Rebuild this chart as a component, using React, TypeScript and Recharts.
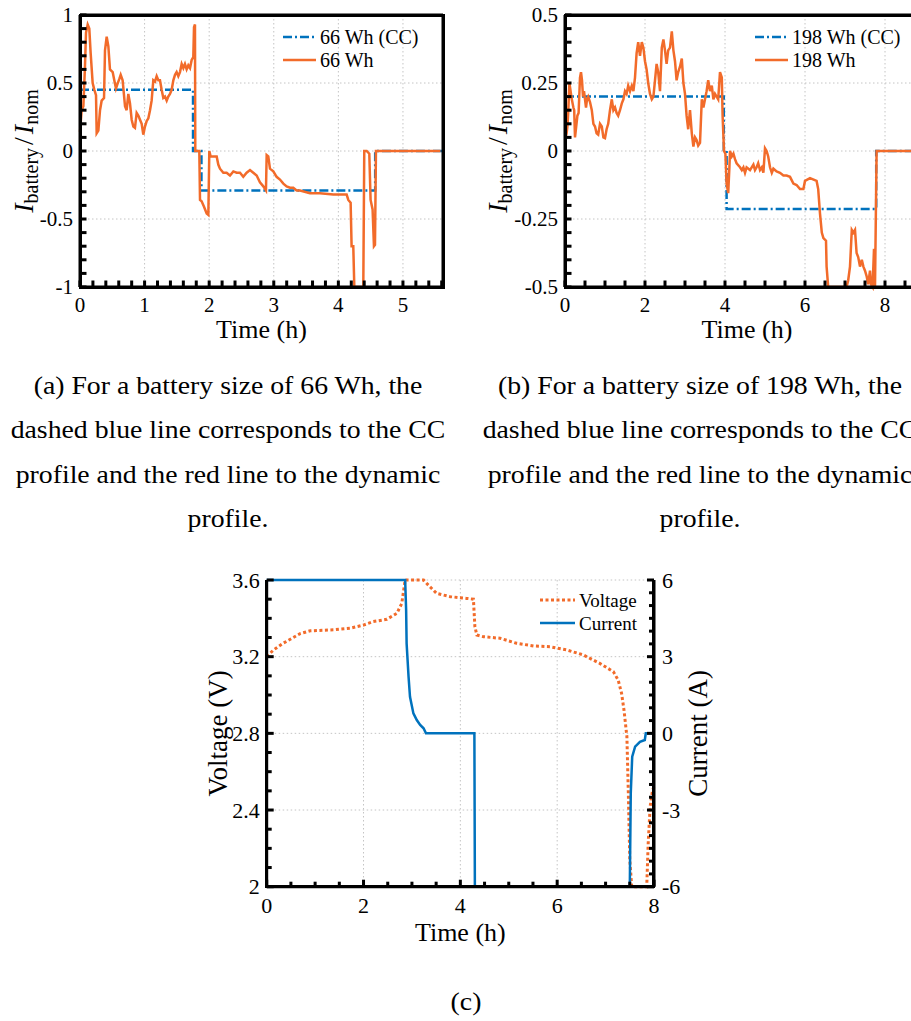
import React from 'react';
import { LineChart, Line, XAxis, YAxis, CartesianGrid, Legend } from 'recharts';

const FONT = '"Liberation Serif", "Times New Roman", serif';
const BLUE = '#0072BD';
const ORANGE = '#F26B2A';

type Pt = [number, number];

// (a) 66 Wh: constant current profile and dynamic profile, I_battery / I_nom vs time (h)
const cc66: Pt[] = [
  [0, 0.45], [1.75, 0.45], [1.75, 0], [1.88, 0], [1.88, -0.29], [4.57, -0.29], [4.57, 0], [5.62, 0],
];
const dyn66: Pt[] = [
  [0, 0.14], [0.026, 0.3], [0.052, 0.33], [0.077, 0.62], [0.093, 0.87], [0.119, 0.93], [0.144, 0.9],
  [0.165, 0.72], [0.196, 0.5], [0.222, 0.45], [0.248, 0.41], [0.258, 0.13], [0.284, 0.15], [0.31, 0.3],
  [0.335, 0.37], [0.372, 0.39], [0.387, 0.74], [0.413, 0.84], [0.439, 0.77], [0.464, 0.6], [0.506, 0.58],
  [0.531, 0.52], [0.557, 0.46], [0.578, 0.49], [0.609, 0.53], [0.63, 0.56], [0.66, 0.52], [0.697, 0.33],
  [0.722, 0.3], [0.748, 0.42], [0.774, 0.35], [0.8, 0.23], [0.826, 0.18], [0.851, 0.17], [0.877, 0.28],
  [0.903, 0.26], [0.929, 0.23], [0.955, 0.2], [0.98, 0.12], [1.006, 0.18], [1.032, 0.22], [1.058, 0.24],
  [1.084, 0.3], [1.109, 0.37], [1.135, 0.52], [1.161, 0.51], [1.187, 0.55], [1.213, 0.52], [1.238, 0.52],
  [1.264, 0.45], [1.29, 0.39], [1.316, 0.4], [1.342, 0.37], [1.367, 0.4], [1.393, 0.42], [1.419, 0.45],
  [1.445, 0.52], [1.471, 0.56], [1.496, 0.58], [1.522, 0.55], [1.548, 0.58], [1.574, 0.64], [1.6, 0.61],
  [1.625, 0.64], [1.651, 0.6], [1.677, 0.63], [1.703, 0.61], [1.729, 0.67], [1.754, 0.69], [1.765, 0.91],
  [1.78, 0.93], [1.785, 0], [1.847, 0], [1.858, -0.36], [1.883, -0.37], [1.92, -0.41], [1.961, -0.46],
  [1.987, -0.47], [2.002, 0], [2.023, -0.04], [2.116, -0.04], [2.141, -0.1], [2.167, -0.13], [2.219, -0.16],
  [2.27, -0.16], [2.322, -0.18], [2.374, -0.15], [2.425, -0.16], [2.477, -0.16], [2.528, -0.19], [2.58, -0.16],
  [2.632, -0.14], [2.683, -0.16], [2.735, -0.18], [2.786, -0.23], [2.838, -0.26], [2.879, -0.29], [2.89, -0.03],
  [2.915, -0.04], [2.941, -0.13], [2.993, -0.15], [3.044, -0.19], [3.096, -0.21], [3.148, -0.24], [3.199, -0.26],
  [3.251, -0.27], [3.302, -0.27], [3.354, -0.29], [3.406, -0.29], [3.56, -0.31], [3.715, -0.31], [3.922, -0.32],
  [4.128, -0.32], [4.154, -0.36], [4.19, -0.38], [4.205, -0.7], [4.231, -0.7], [4.247, -1], [4.386, -1],
  [4.401, 0], [4.438, 0], [4.479, -0.02], [4.499, -0.36], [4.53, -0.43], [4.551, -0.7], [4.567, -0.69],
  [4.582, 0], [5.58, 0],
];

// (b) 198 Wh
const cc198: Pt[] = [
  [0, 0.2], [3.97, 0.2], [3.97, 0], [4.04, 0], [4.04, -0.213], [7.78, -0.213], [7.78, 0], [9.1, 0],
];
const dyn198: Pt[] = [
  [0, 0.04], [0.04, 0.065], [0.06, 0.09], [0.08, 0.14], [0.11, 0.25], [0.14, 0.22], [0.17, 0.19], [0.21, 0.16],
  [0.23, 0.15], [0.25, 0.05], [0.28, 0.09], [0.31, 0.13], [0.34, 0.14], [0.375, 0.27], [0.4, 0.29], [0.425, 0.26],
  [0.45, 0.2], [0.475, 0.22], [0.5, 0.19], [0.525, 0.16], [0.55, 0.19], [0.58, 0.2], [0.625, 0.18], [0.67, 0.15],
  [0.71, 0.1], [0.75, 0.09], [0.79, 0.065], [0.83, 0.06], [0.875, 0.1], [0.92, 0.09], [0.96, 0.05], [1.0, 0.047],
  [1.04, 0.08], [1.08, 0.1], [1.125, 0.15], [1.17, 0.19], [1.21, 0.15], [1.25, 0.16], [1.29, 0.14], [1.33, 0.13],
  [1.375, 0.15], [1.42, 0.175], [1.46, 0.19], [1.5, 0.22], [1.54, 0.21], [1.58, 0.24], [1.625, 0.22], [1.67, 0.24],
  [1.71, 0.22], [1.75, 0.27], [1.79, 0.36], [1.83, 0.4], [1.875, 0.35], [1.92, 0.4], [1.96, 0.38], [2.0, 0.33],
  [2.04, 0.3], [2.08, 0.25], [2.125, 0.21], [2.17, 0.19], [2.21, 0.2], [2.25, 0.26], [2.29, 0.32], [2.33, 0.29],
  [2.375, 0.22], [2.42, 0.38], [2.46, 0.41], [2.5, 0.37], [2.54, 0.32], [2.58, 0.37], [2.625, 0.38], [2.67, 0.44],
  [2.71, 0.37], [2.75, 0.33], [2.79, 0.26], [2.83, 0.29], [2.875, 0.31], [2.92, 0.34], [2.96, 0.25], [3.0, 0.21],
  [3.04, 0.13], [3.08, 0.08], [3.125, 0.15], [3.17, 0.065], [3.21, 0.016], [3.25, 0.05], [3.29, 0.04], [3.33, 0.02],
  [3.375, 0.03], [3.42, 0.19], [3.46, 0.16], [3.5, 0.19], [3.54, 0.22], [3.58, 0.26], [3.625, 0.22], [3.67, 0.24],
  [3.71, 0.19], [3.75, 0.21], [3.79, 0.2], [3.83, 0.19], [3.875, 0.29], [3.92, 0.27], [3.94, 0.13], [3.975, 0],
  [4.01, -0.01], [4.04, -0.12], [4.08, -0.155], [4.11, -0.06], [4.125, 0], [4.17, -0.02], [4.21, -0.01],
  [4.25, -0.03], [4.29, -0.045], [4.375, -0.06], [4.42, -0.07], [4.46, -0.06], [4.5, -0.08], [4.54, -0.06],
  [4.625, -0.07], [4.71, -0.05], [4.75, -0.07], [4.79, -0.06], [4.83, -0.045], [4.875, -0.07], [4.92, -0.06],
  [4.96, -0.08], [5.0, 0.01], [5.04, 0], [5.08, -0.02], [5.125, -0.06], [5.17, -0.08], [5.21, -0.065],
  [5.29, -0.075], [5.375, -0.08], [5.46, -0.09], [5.54, -0.09], [5.625, -0.095], [5.71, -0.12], [5.79, -0.125],
  [5.875, -0.14], [5.96, -0.14], [6.0, -0.11], [6.125, -0.1], [6.29, -0.11], [6.33, -0.14], [6.375, -0.23],
  [6.42, -0.3], [6.46, -0.32], [6.525, -0.33], [6.54, -0.425], [6.58, -0.5], [7.04, -0.5], [7.08, -0.475],
  [7.125, -0.425], [7.17, -0.29], [7.21, -0.3], [7.25, -0.29], [7.29, -0.375], [7.33, -0.39], [7.375, -0.425],
  [7.42, -0.4], [7.46, -0.425], [7.5, -0.44], [7.54, -0.46], [7.58, -0.49], [7.625, -0.44], [7.65, -0.49],
  [7.69, -0.5], [7.725, -0.36], [7.75, -0.5], [7.79, 0], [9.1, 0],
];

// (c) cell voltage (V) and current (A) vs time (h)
const voltage: Pt[] = [
  [0, 3.2], [0.14, 3.235], [0.34, 3.27], [0.69, 3.32], [0.9, 3.335], [1.38, 3.34], [1.72, 3.348], [2.0, 3.365],
  [2.2, 3.383], [2.48, 3.395], [2.69, 3.426], [2.79, 3.478], [2.86, 3.6], [3.24, 3.6], [3.37, 3.565],
  [3.51, 3.53], [3.79, 3.513], [4.13, 3.504], [4.27, 3.5], [4.3, 3.357], [4.34, 3.313], [4.48, 3.304],
  [4.82, 3.296], [5.16, 3.27], [5.51, 3.256], [5.85, 3.252], [6.2, 3.235], [6.54, 3.209], [6.88, 3.165],
  [7.16, 3.122], [7.26, 3.078], [7.33, 3.009], [7.38, 2.922], [7.44, 2.783], [7.47, 2.487], [7.5, 2.139],
  [7.54, 2.0], [7.85, 2.0], [7.88, 2.226], [7.92, 2.417], [7.97, 2.504], [8.0, 2.52],
];
const current: Pt[] = [
  [0, 6], [2.86, 6], [2.88, 4.83], [2.89, 3.52], [2.93, 2.22], [2.96, 1.43], [3.03, 0.78], [3.1, 0.52],
  [3.17, 0.33], [3.24, 0.2], [3.29, 0], [4.29, 0], [4.3, -6], [7.5, -6], [7.52, -2.35], [7.55, -0.91],
  [7.61, -0.52], [7.71, -0.33], [7.81, -0.26], [7.83, 0], [8.0, 0],
];

// tick labels
const xMajorA = [0, 1, 2, 3, 4, 5];
const yMajorA = [-1, -0.5, 0, 0.5, 1];
const xMajorB = [0, 2, 4, 6, 8];
const yMajorB = [-0.5, -0.25, 0, 0.25, 0.5];
const xMajorC = [0, 2, 4, 6, 8];
const vMajorC = [2, 2.4, 2.8, 3.2, 3.6];
const iMajorC = [-6, -3, 0, 3, 6];

const marks = (a: number, b: number, d: number) => {
  const out: number[] = [];
  for (let i = 0; a + i * d <= b + 1e-9; i++) out.push(Math.round((a + i * d) * 1000) / 1000);
  return out;
};

const rows = (pts: Pt[]) => pts.map(([t, v]) => ({ t, v }));

type Side = 'bottom' | 'top' | 'left' | 'right';

const isIn = (v: number, list: number[]) => list.some((m) => Math.abs(m - v) < 1e-6);

// inward tick bar + label for major values
const makeTick = (side: Side, major: number[], o: { len: number; minor: number; font?: number; gap?: number }) =>
  (props: any) => {
    const x = Number(props.x);
    const y = Number(props.y);
    const v = Number(props.payload.value);
    const isMajor = isIn(v, major);
    const L = isMajor ? o.len : o.minor;
    const w = 3;
    let r = { x: x - w / 2, y: y - L, width: w, height: L };
    if (side === 'top') r = { x: x - w / 2, y, width: w, height: L };
    if (side === 'left') r = { x, y: y - w / 2, width: L, height: w };
    if (side === 'right') r = { x: x - L, y: y - w / 2, width: L, height: w };
    const gap = o.gap ?? 0;
    const common = { fontSize: o.font, fontFamily: FONT, fill: '#000' };
    let txt = null;
    if (isMajor && o.font) {
      if (side === 'bottom') txt = <text x={x} y={y + gap} textAnchor="middle" {...common}>{String(v)}</text>;
      if (side === 'left') txt = <text x={x - gap} y={y} dy="0.35em" textAnchor="end" {...common}>{String(v)}</text>;
      if (side === 'right') txt = <text x={x + gap} y={y} dy="0.35em" textAnchor="start" {...common}>{String(v)}</text>;
    }
    return (
      <g>
        <rect {...r} fill="#000" />
        {txt}
      </g>
    );
  };

const XTitle = ({ viewBox, dy, size }: any) => (
  <text x={viewBox.x + viewBox.width / 2} y={viewBox.y + dy} textAnchor="middle" fontSize={size} fontFamily={FONT} fill="#000">
    Time (h)
  </text>
);

const RatioTitle = ({ viewBox, inset }: any) => {
  const cx = viewBox.x + viewBox.width - inset;
  const cy = viewBox.y + viewBox.height / 2;
  return (
    <text x={cx} y={cy} transform={`rotate(-90 ${cx} ${cy})`} textAnchor="middle" fontFamily={FONT} fill="#000">
      <tspan fontStyle="italic" fontSize={28}>I</tspan>
      <tspan fontSize={20} dy={5}>battery</tspan>
      <tspan fontSize={28} dy={-5} dx={3}>/</tspan>
      <tspan fontStyle="italic" fontSize={28} dx={3}>I</tspan>
      <tspan fontSize={20} dy={5}>nom</tspan>
    </text>
  );
};

const SideTitle = ({ viewBox, text, at, size }: any) => {
  const cx = viewBox.x + at;
  const cy = viewBox.y + viewBox.height / 2;
  return (
    <text x={cx} y={cy} transform={`rotate(-90 ${cx} ${cy})`} textAnchor="middle" fontSize={size} fontFamily={FONT} fill="#000">
      {text}
    </text>
  );
};

type Item = { name: string; color: string; dash?: string; width: number };

const LegendRows = ({ items, size, sample }: { items: Item[]; size: number; sample: number }) => (
  <div style={{ fontFamily: FONT, fontSize: size, lineHeight: '23px', color: '#000' }}>
    {items.map((it) => (
      <div key={it.name} style={{ display: 'flex', alignItems: 'center', whiteSpace: 'nowrap', height: 23 }}>
        <svg width={sample} height={8} style={{ display: 'block' }}>
          <line x1={0} y1={4} x2={sample} y2={4} stroke={it.color} strokeWidth={it.width} strokeDasharray={it.dash} />
        </svg>
        <span style={{ marginLeft: 4 }}>{it.name}</span>
      </div>
    ))}
  </div>
);

const AXIS = { stroke: '#000', strokeWidth: 3 };

// plot frame drawn around the plotting area (sides as in the reference)
const Frame = ({ x0, y0, x1, y1, top = true }: { x0: number; y0: number; x1: number; y1: number; top?: boolean }) => (
  <div style={{ position: 'absolute', left: x0 - 1.5, top: top ? y0 - 1.5 : y0, width: x1 - x0 + 3,
    height: y1 - y0 + (top ? 3 : 1.5), boxSizing: 'border-box', border: '3px solid #000',
    borderTop: top ? '3px solid #000' : 'none', pointerEvents: 'none' }} />
);

type PanelProps = {
  left: number; width: number; yw: number; right: number;
  xMax: number; xMajor: number[]; xStep: number;
  yMajor: number[]; yStep: number;
  cc: Pt[]; dyn: Pt[]; names: [string, string];
  legendLeft: number; inset: number;
};

const Panel = (p: PanelProps) => {
  const yMin = p.yMajor[0];
  const yMax = p.yMajor[p.yMajor.length - 1];
  const xTicks = marks(0, p.xMax, p.xStep);
  const yTicks = marks(yMin, yMax, p.yStep);
  const items: Item[] = [
    { name: p.names[0], color: BLUE, dash: '9 3 2 3', width: 2.5 },
    { name: p.names[1], color: ORANGE, width: 2.5 },
  ];
  const tk = { len: 6.5, minor: 6.5 };
  const common = { tickSize: 0, tickMargin: 0, tickLine: false, axisLine: AXIS, interval: 0 as const };
  return (
    <div style={{ position: 'absolute', left: p.left, top: 0 }}>
      <LineChart width={p.width} height={350} margin={{ top: 14, right: p.right - 1, bottom: 0, left: 0 }}>
        <CartesianGrid stroke="#c4c4c4" strokeDasharray="1.5 2.5" horizontalValues={p.yMajor} verticalValues={p.xMajor} />
        <Line data={rows(p.cc)} dataKey="v" name={p.names[0]} type="linear" stroke={BLUE} strokeWidth={2.5}
          strokeDasharray="9 3 2 3" dot={false} activeDot={false} isAnimationActive={false} />
        <Line data={rows(p.dyn)} dataKey="v" name={p.names[1]} type="linear" stroke={ORANGE} strokeWidth={2.5}
          dot={false} activeDot={false} isAnimationActive={false} />
        <XAxis dataKey="t" type="number" domain={[0, p.xMax]} ticks={xTicks} height={63} {...common}
          tick={makeTick('bottom', p.xMajor, { ...tk, font: 21, gap: 25 })}
          label={<XTitle dy={51} size={26} />} />
        <XAxis xAxisId="top" orientation="top" dataKey="t" type="number" domain={[0, p.xMax]}
          ticks={xTicks} height={1} {...common} tick={makeTick('top', p.xMajor, tk)} />
        <YAxis type="number" domain={[yMin, yMax]} ticks={yTicks} width={p.yw} {...common}
          tick={makeTick('left', p.yMajor, { ...tk, font: 21, gap: 7 })}
          label={<RatioTitle inset={p.inset} />} />
        <YAxis yAxisId="right" orientation="right" type="number" domain={[yMin, yMax]} ticks={yTicks}
          width={1} {...common} tick={makeTick('right', p.yMajor, tk)} />
        <Legend layout="vertical" align="center" verticalAlign="middle"
          wrapperStyle={{ left: p.legendLeft, top: 25.5, width: 'auto', height: 'auto' }}
          content={() => <LegendRows items={items} size={20} sample={33} />} />
      </LineChart>
    </div>
  );
};

const PanelC = () => {
  const items: Item[] = [
    { name: 'Voltage', color: ORANGE, dash: '3 2.5', width: 3 },
    { name: 'Current', color: BLUE, width: 2.5 },
  ];
  const common = { tickSize: 0, tickMargin: 0, tickLine: false, axisLine: AXIS, interval: 0 as const };
  return (
    <div style={{ position: 'absolute', left: 180, top: 560 }}>
      <LineChart width={560} height={400} margin={{ top: 20, right: 0, bottom: 0, left: 0 }}>
        <CartesianGrid stroke="#c4c4c4" strokeDasharray="1.5 2.5" horizontalValues={vMajorC} verticalValues={xMajorC} />
        <Line data={rows(voltage)} dataKey="v" name="Voltage" type="linear" stroke={ORANGE} strokeWidth={3}
          strokeDasharray="3 2.5" dot={false} activeDot={false} isAnimationActive={false} />
        <Line data={rows(current)} dataKey="v" yAxisId="right" name="Current" type="linear" stroke={BLUE}
          strokeWidth={2.5} dot={false} activeDot={false} isAnimationActive={false} />
        <XAxis dataKey="t" type="number" domain={[0, 8]} ticks={marks(0, 8, 0.5)} height={73.3} {...common}
          tick={makeTick('bottom', xMajorC, { len: 7, minor: 5, font: 22, gap: 26 })}
          label={<XTitle dy={54} size={26} />} />
        <YAxis type="number" domain={[2, 3.6]} ticks={marks(2, 3.6, 0.1)} width={86.7} {...common}
          tick={makeTick('left', vMajorC, { len: 7, minor: 5, font: 22, gap: 7 })}
          label={<SideTitle text="Voltage (V)" at={47} size={27} />} />
        <YAxis yAxisId="right" orientation="right" type="number" domain={[-6, 6]} ticks={marks(-6, 6, 0.5)}
          width={86} {...common} tick={makeTick('right', iMajorC, { len: 7, minor: 5, font: 22, gap: 8 })}
          label={<SideTitle text="Current (A)" at={53} size={27} />} />
        <Legend layout="vertical" align="center" verticalAlign="middle"
          wrapperStyle={{ left: 360, top: 28.5, width: 'auto', height: 'auto' }}
          content={() => <LegendRows items={items} size={19} sample={35} />} />
      </LineChart>
    </div>
  );
};

const captionA = [
  '(a) For a battery size of 66 Wh, the',
  'dashed blue line corresponds to the CC',
  'profile and the red line to the dynamic',
  'profile.',
];
const captionB = [
  '(b) For a battery size of 198 Wh, the',
  'dashed blue line corresponds to the CC',
  'profile and the red line to the dynamic',
  'profile.',
];
const captionC = ['(c)'];

const Caption = ({ lines, cx, top }: { lines: string[]; cx: number; top: number }) => (
  <div style={{ position: 'absolute', left: cx - 300, top: top - 31, width: 600, textAlign: 'center',
    fontFamily: FONT, fontSize: 25, lineHeight: '44.3px', color: '#000', transform: 'scaleX(1.11)',
    whiteSpace: 'nowrap' }}>
    {lines.map((s, i) => <div key={i}>{s}</div>)}
  </div>
);

export default function App() {
  return (
    <div style={{ position: 'absolute', left: 0, top: 0, width: 911, height: 1021, overflow: 'hidden', background: '#fff' }}>
      <Panel left={0} width={460} yw={80} right={17} xMax={5.62} xMajor={xMajorA} xStep={0.2}
        yMajor={yMajorA} yStep={0.1} cc={cc66} dyn={dyn66} names={['66 Wh (CC)', '66 Wh']}
        legendLeft={283} inset={47} />
      <Panel left={450} width={500} yw={115} right={21} xMax={9.1} xMajor={xMajorB} xStep={0.5}
        yMajor={yMajorB} yStep={0.05} cc={cc198} dyn={dyn198} names={['198 Wh (CC)', '198 Wh']}
        legendLeft={305} inset={58} />
      <PanelC />
      <Frame x0={80} y0={15} x1={443} y1={287} />
      <Frame x0={565} y0={15} x1={929} y1={287} />
      <Frame x0={266.7} y0={580} x1={654} y1={886.7} top={false} />
      <Caption lines={captionA} cx={228} top={395} />
      <Caption lines={captionB} cx={700} top={395} />
      <Caption lines={captionC} cx={466} top={1011} />
    </div>
  );
}
